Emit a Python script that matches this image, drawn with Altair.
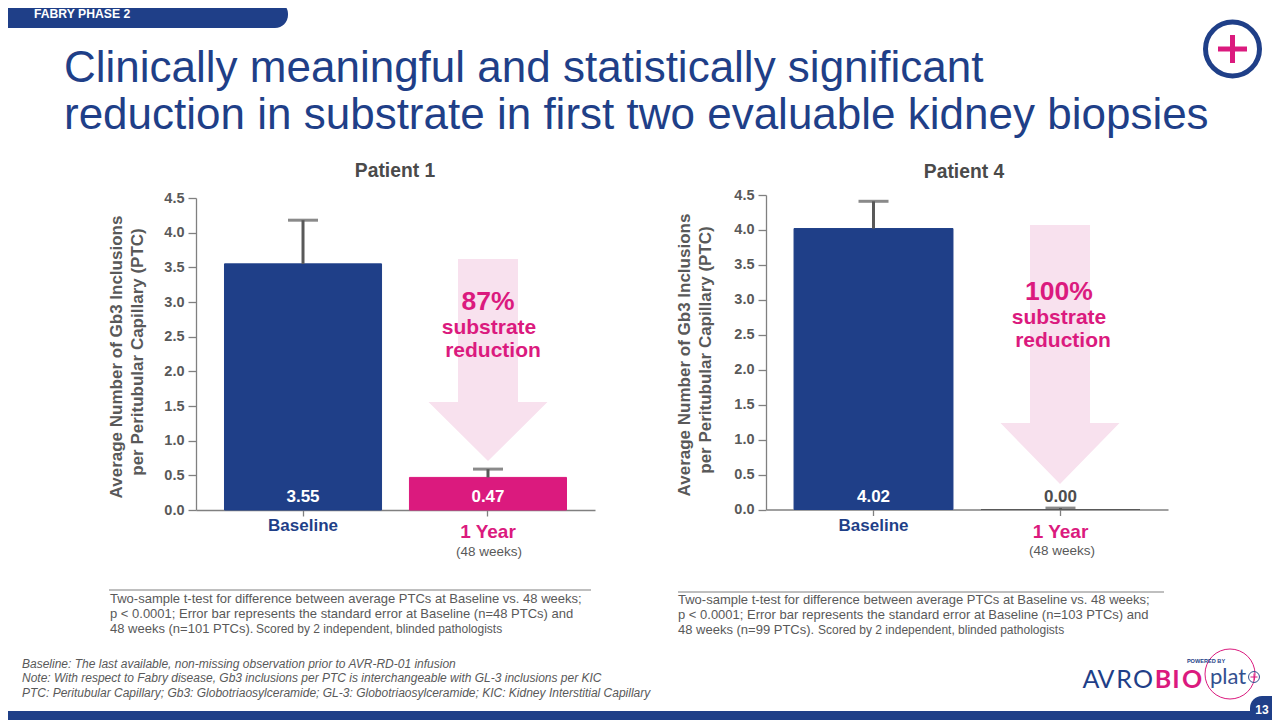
import altair as alt
import pandas as pd

FONT = "Liberation Sans"
NAVY = "#1F3F88"
PINK = "#DB1A7E"
GRAY = "#595959"
LINE = "#808080"
ARROW = "#F8E1EE"

W, H = 1264, 712

# ---- data
categories = ["Baseline", "1 Year"]
p1_values = [3.55, 0.47]
p1_errors = [4.18, 0.59]
p1_labels = ["3.55", "0.47"]
p2_values = [4.02, 0.00]
p2_errors = [4.41, 0.02]
p2_labels = ["4.02", "0.00"]
y_ticks = [0, 0.5, 1, 1.5, 2, 2.5, 3, 3.5, 4, 4.5]
bar_colors = [NAVY, PINK]
p1_strokes = [NAVY, PINK]
p2_strokes = [NAVY, GRAY]
p1_label_colors = ["white", "white"]
p2_label_colors = ["white", "#4D4D4D"]
cat_label_colors = [NAVY, PINK]

title_lines = [
    "Clinically meaningful and statistically significant",
    "reduction in substrate in first two evaluable kidney biopsies",
]
axis_title_lines = [
    "Average Number of Gb3 Inclusions",
    "per Peritubular Capillary (PTC)",
]
p1_notes = [
    "Two-sample t-test for difference between average PTCs at Baseline vs. 48 weeks;",
    "p < 0.0001; Error bar represents the standard error at Baseline (n=48 PTCs) and",
    "48 weeks (n=101 PTCs).",
]
p2_notes = [
    "Two-sample t-test for difference between average PTCs at Baseline vs. 48 weeks;",
    "p < 0.0001; Error bar represents the standard error at Baseline (n=103 PTCs) and",
    "48 weeks (n=99 PTCs).",
]
scored = "Scored by 2 independent, blinded pathologists"
footnotes = [
    "Baseline: The last available, non-missing observation prior to AVR-RD-01 infusion",
    "Note: With respect to Fabry disease, Gb3 inclusions per PTC is interchangeable with GL-3 inclusions per KIC",
    "PTC: Peritubular Capillary; Gb3: Globotriaosylceramide; GL-3: Globotriaosylceramide; KIC: Kidney Interstitial Capillary",
]
logo_letters = ["A", "V", "R", "O", "B", "I", "O"]
logo_x = [1091, 1106, 1124, 1143, 1163, 1176, 1192]
logo_colors = [NAVY, NAVY, NAVY, NAVY, PINK, PINK, PINK]


def base():
    return alt.Chart(alt.InlineData(values=[{"a": 1}]))


def T(text, x, y, size, color=GRAY, bold=False, italic=False, align="center", angle=0, font=FONT, baseline="middle"):
    kw = dict(
        fontSize=size, color=color, font=font, align=align, baseline=baseline,
        fontWeight="bold" if bold else "normal",
        fontStyle="italic" if italic else "normal",
    )
    if angle:
        kw["angle"] = angle
    return base().mark_text(**kw).encode(
        x=alt.value(x - 8), y=alt.value(y - 8), text=alt.value(text)
    )


def R(x0, x1, y0, y1, color, **kw):
    return base().mark_rect(color=color, **kw).encode(
        x=alt.value(x0 - 8), x2=alt.value(x1 - 8), y=alt.value(y0 - 8), y2=alt.value(y1 - 8)
    )


def arrow(cx, top, neck, tip, half_shaft, half_head):
    u = float(half_head)
    mid = (top + tip) / 2
    f = lambda v: round(v / u, 4)
    path = (
        f"M{f(-half_shaft)},{f(top-mid)}L{f(half_shaft)},{f(top-mid)}"
        f"L{f(half_shaft)},{f(neck-mid)}L{f(half_head)},{f(neck-mid)}"
        f"L0,{f(tip-mid)}L{f(-half_head)},{f(neck-mid)}L{f(-half_shaft)},{f(neck-mid)}Z"
    )
    return base().mark_point(
        shape=path, filled=True, color=ARROW, opacity=1, size=(2 * u) ** 2, strokeWidth=0
    ).encode(x=alt.value(cx - 8), y=alt.value(mid - 8))


def panel(values, errors, labels, strokes, label_colors, axis_x, x_end, y0, y45, pad_i, pad_o):
    df = pd.DataFrame({
        "cat": categories, "value": values, "err": errors, "label": labels,
        "color": bar_colors, "stroke": strokes, "lc": label_colors, "cc": cat_label_colors,
    })
    xs = alt.Scale(domain=categories, range=[axis_x - 8, x_end - 8], paddingInner=pad_i, paddingOuter=pad_o)
    ys = alt.Scale(domain=[0, 4.5], range=[y0 - 8, y45 - 8])
    X = alt.X("cat:N", scale=xs, sort=categories, axis=alt.Axis(
        orient="bottom", offset=(y0 - 8) - H, labels=False, title=None, tickSize=6, tickWidth=1.3,
        domainColor=LINE, domainWidth=1.3, tickColor=LINE, grid=False))
    Y = alt.Y("value:Q", scale=ys, axis=alt.Axis(
        orient="left", offset=-(axis_x - 8), values=y_ticks, format=".1f", title=None, tickSize=8,
        tickWidth=1.3, domainColor=LINE, domainWidth=1.3, tickColor=LINE, grid=False,
        labelFont=FONT, labelFontSize=14.5, labelFontWeight="bold", labelColor=GRAY, labelPadding=4))
    c = alt.Chart(df)
    bars = c.mark_bar(strokeWidth=1).encode(
        x=X, y=Y, color=alt.Color("color:N", scale=None), stroke=alt.Stroke("stroke:N", scale=None))
    stem = c.mark_rule(color=GRAY, strokeWidth=3).encode(
        x=alt.X("cat:N", scale=xs, sort=categories), y=alt.Y("value:Q", scale=ys), y2="err:Q")
    cap = c.mark_tick(orient="horizontal", size=30, thickness=3, color=GRAY).encode(
        x=alt.X("cat:N", scale=xs, sort=categories), y=alt.Y("err:Q", scale=ys))
    vals = c.mark_text(font=FONT, fontSize=17, fontWeight="bold", baseline="middle").encode(
        x=alt.X("cat:N", scale=xs, sort=categories), y=alt.value(y0 - 8 - 13),
        text="label:N", color=alt.Color("lc:N", scale=None))
    names1 = c.transform_filter("datum.cat == 'Baseline'").mark_text(
        font=FONT, fontSize=17, fontWeight="bold", baseline="middle").encode(
        x=alt.X("cat:N", scale=xs, sort=categories), y=alt.value(526 - 8),
        text="cat:N", color=alt.Color("cc:N", scale=None))
    names2 = c.transform_filter("datum.cat != 'Baseline'").mark_text(
        font=FONT, fontSize=19, fontWeight="bold", baseline="middle").encode(
        x=alt.X("cat:N", scale=xs, sort=categories), y=alt.value(532 - 8),
        text="cat:N", color=alt.Color("cc:N", scale=None))
    return alt.layer(bars, stem, cap, vals, names1, names2)


p1 = panel(p1_values, p1_errors, p1_labels, p1_strokes, p1_label_colors, 196, 595, 510, 198, 0.151, 0.154)
p2 = panel(p2_values, p2_errors, p2_labels, p2_strokes, p2_label_colors, 766, 1168, 509.5, 195, 0.15, 0.15)

deco_back = [
    R(0, 288, 1, 28, NAVY, cornerRadiusTopRight=13, cornerRadiusBottomRight=13),
    T("FABRY PHASE 2", 34, 14, 12.2, "white", bold=True, align="left"),
    R(0, 1280, 711, 720, NAVY),
    R(1250, 1280, 696, 720, NAVY, cornerRadiusTopLeft=14),
    T("13", 1262, 710, 12, "white", bold=True),
    T(title_lines[0], 64, 68.5, 44, NAVY, align="left"),
    T(title_lines[1], 64, 115.5, 44, NAVY, align="left"),
    base().mark_point(shape="circle", size=2916, color=NAVY, strokeWidth=5, opacity=1).encode(
        x=alt.value(1232.5 - 8), y=alt.value(49 - 8)),
    R(1218, 1247, 46.5, 51.5, PINK),
    R(1230, 1235, 35, 63, PINK),
    T("Patient 1", 395, 171, 19.3, "#4A4A4A", bold=True),
    T("Patient 4", 964, 172, 19.3, "#4A4A4A", bold=True),
    T(axis_title_lines[0], 117, 357, 17, GRAY, bold=True, angle=270),
    T(axis_title_lines[1], 138, 352, 17, GRAY, bold=True, angle=270),
    T(axis_title_lines[0], 685, 355, 17, GRAY, bold=True, angle=270),
    T(axis_title_lines[1], 706, 350, 17, GRAY, bold=True, angle=270),
    arrow(488, 259, 402, 461, 30, 59.5),
    arrow(1060, 225, 423, 484, 30, 59.5),
]

deco_front = [
    T("87%", 488, 302, 26.5, PINK, bold=True),
    T("substrate", 489, 328, 21, PINK, bold=True),
    T("reduction", 493, 351, 21, PINK, bold=True),
    T("100%", 1059, 292, 26.5, PINK, bold=True),
    T("substrate", 1059, 318, 21, PINK, bold=True),
    T("reduction", 1063, 341, 21, PINK, bold=True),
    T("(48 weeks)", 489, 552, 13.5, GRAY),
    T("(48 weeks)", 1062, 551, 13.5, GRAY),
    R(109, 591, 589.5, 590.5, LINE),
    R(678, 1164, 591.5, 592.5, LINE),
    T(p1_notes[0], 110, 599, 13, GRAY, align="left"),
    T(p1_notes[1], 110, 614, 13, GRAY, align="left"),
    T(p1_notes[2], 110, 629, 13, GRAY, align="left"),
    T(scored, 256, 629, 12, GRAY, align="left"),
    T(p2_notes[0], 678, 600, 13, GRAY, align="left"),
    T(p2_notes[1], 678, 615, 13, GRAY, align="left"),
    T(p2_notes[2], 678, 630, 13, GRAY, align="left"),
    T(scored, 818, 630, 12, GRAY, align="left"),
    T(footnotes[0], 22, 664, 12, GRAY, italic=True, align="left"),
    T(footnotes[1], 22, 678, 12, GRAY, italic=True, align="left"),
    T(footnotes[2], 22, 693, 12, GRAY, italic=True, align="left"),
    base().mark_point(shape="circle", size=2500, color=PINK, strokeWidth=1, opacity=1).encode(
        x=alt.value(1230 - 8), y=alt.value(674 - 8)),
    T("POWERED BY", 1206, 661, 5.6, NAVY, bold=True),
    T("plat", 1210, 677, 22, "#33508F", font="Lato", align="left"),
    base().mark_point(shape="circle", size=120, color="#33508F", strokeWidth=1, opacity=1).encode(
        x=alt.value(1254 - 8), y=alt.value(677 - 8)),
    R(1250.5, 1257.5, 676.5, 677.5, PINK),
    R(1253.5, 1254.5, 673.5, 680.5, PINK),
]
for letter, lx, lc in zip(logo_letters, logo_x, logo_colors):
    deco_front.append(T(letter, lx, 680, 25, lc, font="Lato", bold=lc == PINK))

chart = (
    alt.layer(alt.layer(*deco_back), p1, p2, alt.layer(*deco_front))
    .resolve_scale(x="independent", y="independent")
    .resolve_axis(x="independent", y="independent")
    .properties(width=W, height=H, padding=0, autosize=alt.AutoSizeParams(type="none"), background="white")
    .configure_view(stroke=None)
)

chart.save("out.html", embed_options={"renderer": "svg", "actions": False})
